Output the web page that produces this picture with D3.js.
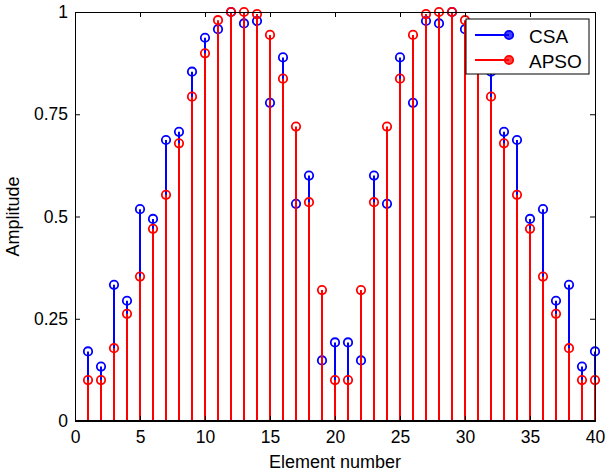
<!DOCTYPE html>
<html>
<head>
<meta charset="utf-8">
<script src="https://cdn.jsdelivr.net/npm/d3@7"></script>
<style>
  body { margin: 0; background: #fff; }
  text { font-family: "Liberation Sans", Arial, sans-serif; }
</style>
</head>
<body>
<div id="chart"></div>
<script>
// element index 1..40
const elements = d3.range(1, 41);
const csa = [0.170, 0.133, 0.333, 0.294, 0.518, 0.494, 0.687, 0.707, 0.854, 0.937,
             0.958, 1.000, 0.972, 0.978, 0.778, 0.889, 0.531, 0.600, 0.148, 0.192,
             0.192, 0.148, 0.600, 0.531, 0.889, 0.778, 0.978, 0.972, 1.000, 0.958,
             0.937, 0.854, 0.707, 0.687, 0.494, 0.518, 0.294, 0.333, 0.133, 0.170];
const apso = [0.100, 0.100, 0.178, 0.262, 0.353, 0.470, 0.553, 0.679, 0.793, 0.899,
              0.980, 1.000, 1.000, 0.995, 0.944, 0.837, 0.720, 0.535, 0.320, 0.100,
              0.100, 0.320, 0.535, 0.720, 0.837, 0.944, 0.995, 1.000, 1.000, 0.980,
              0.899, 0.793, 0.679, 0.553, 0.470, 0.353, 0.262, 0.178, 0.100, 0.100];
const xTicks = [0, 5, 10, 15, 20, 25, 30, 35, 40];
const yTicks = [0, 0.25, 0.5, 0.75, 1];
const seriesNames = ["CSA", "APSO"];
const seriesColors = ["#0000ff", "#ff0000"];

const width = 606, height = 475;
const margin = { top: 12, right: 11, bottom: 54, left: 75 };

const svg = d3.select("#chart").append("svg")
  .attr("width", width)
  .attr("height", height);

const x = d3.scaleLinear().domain([0, 40]).range([margin.left, width - margin.right]);
const y = d3.scaleLinear().domain([0, 1]).range([height - margin.bottom, margin.top]);

// stems (CSA first, APSO on top)
[csa, apso].forEach((vals, k) => {
  const g = svg.append("g");
  g.selectAll("line")
    .data(elements)
    .enter()
    .append("line")
    .attr("x1", d => x(d))
    .attr("x2", d => x(d))
    .attr("y1", y(0))
    .attr("y2", (d, i) => y(vals[i]))
    .attr("stroke", seriesColors[k])
    .attr("stroke-width", 2);
  g.selectAll("circle")
    .data(elements)
    .enter()
    .append("circle")
    .attr("cx", d => x(d))
    .attr("cy", (d, i) => y(vals[i]))
    .attr("r", 4.2)
    .attr("fill", "none")
    .attr("stroke", seriesColors[k])
    .attr("stroke-width", 1.8);
});

// axes, MATLAB style: ticks inward on all sides
const axisBottom = d3.axisBottom(x).tickValues(xTicks).tickSize(-5).tickPadding(10).tickFormat(d3.format("d"));
const axisTop = d3.axisTop(x).tickValues(xTicks).tickSize(-5).tickFormat("");
const axisLeft = d3.axisLeft(y).tickValues(yTicks).tickSize(-5).tickPadding(7).tickFormat(d => String(d));
const axisRight = d3.axisRight(y).tickValues(yTicks).tickSize(-5).tickFormat("");

svg.append("g").attr("transform", `translate(0,${y(0)})`).call(axisBottom);
svg.append("g").attr("transform", `translate(0,${y(1)})`).call(axisTop);
svg.append("g").attr("transform", `translate(${x(0)},0)`).call(axisLeft);
svg.append("g").attr("transform", `translate(${x(40)},0)`).call(axisRight);

svg.selectAll(".domain").attr("stroke", "#000").attr("stroke-width", 1);
svg.selectAll(".tick line").attr("stroke", "#000");
svg.selectAll(".tick text").attr("font-size", 17.5).attr("fill", "#000")
  .style("font-family", "Liberation Sans, Arial, sans-serif");

// thicker baseline
svg.append("line")
  .attr("x1", x(0)).attr("x2", x(40))
  .attr("y1", y(0)).attr("y2", y(0))
  .attr("stroke", "#000").attr("stroke-width", 2);

// axis labels
svg.append("text")
  .attr("x", (x(0) + x(40)) / 2)
  .attr("y", 468)
  .attr("text-anchor", "middle")
  .attr("font-size", 18)
  .text("Element number");

svg.append("text")
  .attr("transform", `translate(19,${(y(0) + y(1)) / 2}) rotate(-90)`)
  .attr("text-anchor", "middle")
  .attr("font-size", 18)
  .text("Amplitude");

// legend
const legend = svg.append("g").attr("transform", "translate(466,19)");
legend.append("rect")
  .attr("width", 123)
  .attr("height", 55)
  .attr("fill", "#fff")
  .attr("stroke", "#000")
  .attr("stroke-width", 1);

seriesNames.forEach((name, i) => {
  const row = legend.append("g").attr("transform", `translate(0,${16 + i * 25})`);
  row.append("line")
    .attr("x1", 9).attr("x2", 43)
    .attr("stroke", seriesColors[i])
    .attr("stroke-width", 2);
  row.append("circle")
    .attr("cx", 43).attr("r", 4.2)
    .attr("fill", seriesColors[i])
    .attr("fill-opacity", 0.75)
    .attr("stroke", seriesColors[i])
    .attr("stroke-width", 1.8);
  row.append("text")
    .attr("x", 63)
    .attr("y", 1)
    .attr("dominant-baseline", "central")
    .attr("font-size", 19)
    .text(name);
});
</script>
</body>
</html>
